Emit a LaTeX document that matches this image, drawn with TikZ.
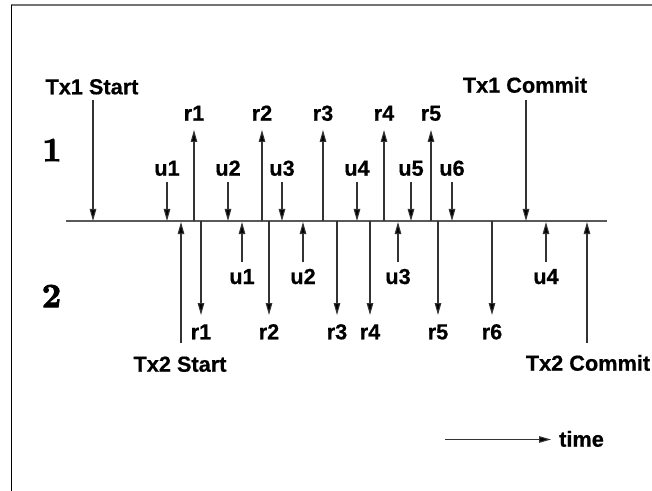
\documentclass[tikz,border=0pt]{standalone}
\usepackage{fontspec}
\newfontfamily\labfont{Liberation Sans}[BoldFeatures={FakeBold=0.6}]
\newfontfamily\numfont{lmroman10-bold.otf}[FakeBold=2.5]
\usetikzlibrary{arrows.meta}
\begin{document}
\begin{tikzpicture}[x=1bp,y=-1bp,
  evlabel/.style={font=\labfont\bfseries\fontsize{21.8pt}{24pt}\selectfont,
                  inner sep=0pt,anchor=base},
  sitelabel/.style={font=\numfont\fontsize{34pt}{36pt}\selectfont,inner sep=0pt},
  evarrow/.style={line width=1.1bp,black!80,
                  -{Triangle[length=12bp,width=6.5bp,fill=black]}},
  timeline/.style={line width=1.6bp,black!65}]
\useasboundingbox (0,0) rectangle (652,491);

% frame
\draw[line width=1.7bp,black!55] (10.5,5) -- (652,5);
\draw[line width=1.3bp,black] (11.5,5) -- (11.5,491);

% site numbers
\node[sitelabel] (s1) at (52,150) {1};
\node[sitelabel] (s2) at (51.5,296) {2};

% the shared time line
\coordinate (tl) at (66,221);
\coordinate (tr) at (607,221);
\draw[timeline] (tl) -- (tr);

% transaction 1: start and commit
\node[evlabel] (t1s) at (92,94.3) {Tx1 Start};
\coordinate (t1sa) at (93,100);
\coordinate (t1sb) at (93,221);
\draw[evarrow] (t1sa) -- (t1sb);
\node[evlabel] (t1c) at (525,92.7) {Tx1 Commit};
\coordinate (t1ca) at (526,100);
\coordinate (t1cb) at (526,221);
\draw[evarrow] (t1ca) -- (t1cb);

% transaction 1: updates (down) and reads (up)
\foreach \x/\n in {167/1,228/2,282/3,357/4,411/5,452/6}{
  \node[evlabel] (tu\n) at (\x,175.7) {u\n};
  \coordinate (tua\n) at (\x,182);
  \coordinate (tub\n) at (\x,221);
  \draw[evarrow] (tua\n) -- (tub\n);
}
\foreach \x/\n in {194/1,262/2,323/3,384/4,431/5}{
  \node[evlabel] (tr\n) at (\x,120.7) {r\n};
  \coordinate (tra\n) at (\x,221);
  \coordinate (trb\n) at (\x,130);
  \draw[evarrow] (tra\n) -- (trb\n);
}

% transaction 2: start and commit
\node[evlabel] (t2s) at (180,371.7) {Tx2 Start};
\coordinate (t2sa) at (181,343);
\coordinate (t2sb) at (181,222);
\draw[evarrow] (t2sa) -- (t2sb);
\node[evlabel] (t2c) at (588,370.7) {Tx2 Commit};
\coordinate (t2ca) at (587,343);
\coordinate (t2cb) at (587,222);
\draw[evarrow] (t2ca) -- (t2cb);

% transaction 2: updates (up) and reads (down)
\foreach \x/\n in {242/1,303/2,398/3,546/4}{
  \node[evlabel] (bu\n) at (\x,284) {u\n};
  \coordinate (bua\n) at (\x,262);
  \coordinate (bub\n) at (\x,222);
  \draw[evarrow] (bua\n) -- (bub\n);
}
\foreach \x/\n in {201/1,269/2,337/3,370/4,438/5,492/6}{
  \node[evlabel] (br\n) at (\x,339.3) {r\n};
  \coordinate (bra\n) at (\x,221);
  \coordinate (brb\n) at (\x,315);
  \draw[evarrow] (bra\n) -- (brb\n);
}

% time direction
\coordinate (ta) at (445,439.5);
\coordinate (tb) at (551,439.5);
\draw[evarrow] (ta) -- (tb);
\node[evlabel,anchor=base west] (time) at (559,446.7) {time};
\end{tikzpicture}
\end{document}
